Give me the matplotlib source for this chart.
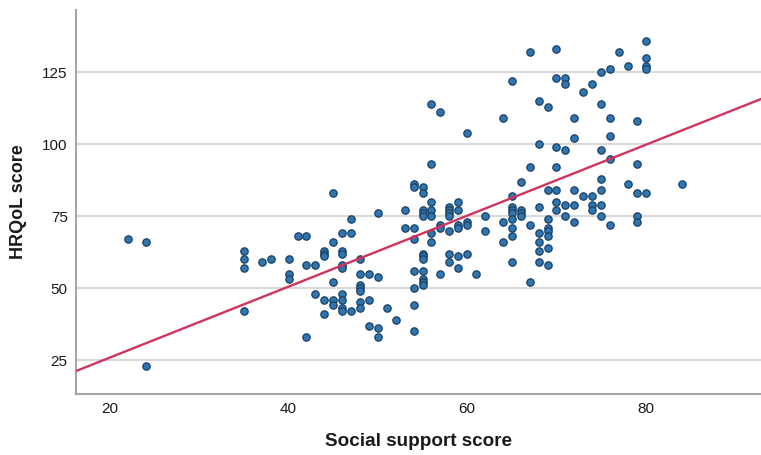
import numpy as np
import matplotlib
matplotlib.use('Agg')
import matplotlib.pyplot as plt

# social support score (x) and HRQoL score (y), one entry per respondent
supportScores = [
    22,
    24, 24,
    35, 35, 35, 35,
    37,
    38,
    40, 40, 40,
    41,
    42, 42, 42,
    43, 43,
    44, 44, 44, 44, 44,
    45, 45, 45, 45, 45,
    46, 46, 46, 46, 46, 46, 46, 46, 46,
    47, 47, 47,
    48, 48, 48, 48, 48, 48, 48,
    49, 49, 49,
    50, 50, 50, 50,
    51,
    52,
    53, 53,
    54, 54, 54, 54, 54, 54, 54, 54,
    55, 55, 55, 55, 55, 55, 55, 55, 55, 55, 55, 55,
    56, 56, 56, 56, 56, 56, 56,
    57, 57, 57, 57,
    58, 58, 58, 58, 58, 58, 58,
    59, 59, 59, 59, 59, 59,
    60, 60, 60, 60,
    61,
    62, 62,
    64, 64, 64,
    65, 65, 65, 65, 65, 65, 65, 65, 65,
    66, 66, 66, 66,
    67, 67, 67, 67,
    68, 68, 68, 68, 68, 68, 68,
    69, 69, 69, 69, 69, 69, 69, 69,
    70, 70, 70, 70, 70, 70, 70,
    71, 71, 71, 71, 71,
    72, 72, 72, 72, 72,
    73, 73,
    74, 74, 74, 74,
    75, 75, 75, 75, 75, 75, 75,
    76, 76, 76, 76, 76,
    77,
    78, 78,
    79, 79, 79, 79, 79,
    80, 80, 80, 80, 80,
    84,
]

hrqolScores = [
    67,
    66, 23,
    63, 60, 57, 42,
    59,
    60,
    60, 55, 53,
    68,
    68, 58, 33,
    58, 48,
    63, 62, 61, 46, 41,
    83, 66, 52, 46, 44,
    69, 63, 62, 58, 57, 48, 46, 43, 42,
    74, 69, 42,
    60, 55, 51, 50, 49, 45, 43,
    55, 46, 37,
    76, 54, 36, 33,
    43,
    39,
    77, 71,
    86, 85, 71, 67, 56, 50, 44, 35,
    85, 83, 77, 76, 75, 62, 61, 60, 56, 53, 52, 51,
    114, 93, 80, 77, 75, 69, 66,
    111, 72, 71, 55,
    78, 77, 76, 75, 70, 62, 59,
    80, 77, 72, 71, 61, 57,
    104, 73, 72, 62,
    55,
    75, 70,
    109, 73, 66,
    122, 82, 78, 77, 76, 74, 71, 68, 59,
    87, 77, 76, 75,
    132, 92, 72, 52,
    115, 100, 78, 69, 66, 63, 59,
    113, 84, 74, 71, 70, 68, 64, 58,
    133, 123, 99, 92, 84, 80, 77,
    123, 121, 98, 79, 75,
    109, 102, 84, 79, 73,
    118, 82,
    121, 82, 79, 77,
    125, 114, 98, 88, 84, 79, 75,
    126, 109, 103, 95, 72,
    132,
    127, 86,
    108, 93, 83, 75, 73,
    136, 130, 127, 126, 83,
    86,
]

xTicks = [20, 40, 60, 80]
yTicks = [25, 50, 75, 100, 125]

plt.rcParams['font.family'] = ['Liberation Sans', 'DejaVu Sans']

fig = plt.figure(figsize=(7.61, 4.55), dpi=100)
ax = fig.add_axes([0.0999, 0.134, 0.9001, 0.844])

x = np.array(supportScores)
y = np.array(hrqolScores)

ax.scatter(x, y, s=28, c='#2e76b2', edgecolors='#1c3f62', linewidths=0.9, zorder=3)

# linear fit line across the whole plot width
slope, intercept = np.polyfit(x, y, 1)
xLine = np.array([16.2, 92.9])
ax.plot(xLine, slope * xLine + intercept, color='#d2335c', linewidth=1.7, zorder=4)

ax.set_xlim(16.2, 92.9)
ax.set_ylim(13.2, 146.6)
ax.set_xticks(xTicks)
ax.set_yticks(yTicks)
ax.yaxis.grid(True, color='#d9d9d9', linewidth=1.5)
ax.set_axisbelow(True)

for side in ['top', 'right']:
    ax.spines[side].set_visible(False)
for side in ['left', 'bottom']:
    ax.spines[side].set_color('#a6a6a6')
    ax.spines[side].set_linewidth(1.5)

ax.tick_params(length=0, pad=6, labelsize=11, labelcolor='#1a1a1a')
ax.set_xlabel('Social support score', fontsize=13.6, fontweight='bold', labelpad=12, color='#1a1a1a')
ax.set_ylabel('HRQoL score', fontsize=13, fontweight='bold', labelpad=11, color='#1a1a1a')

plt.savefig('out.png', dpi=100)
plt.close()
